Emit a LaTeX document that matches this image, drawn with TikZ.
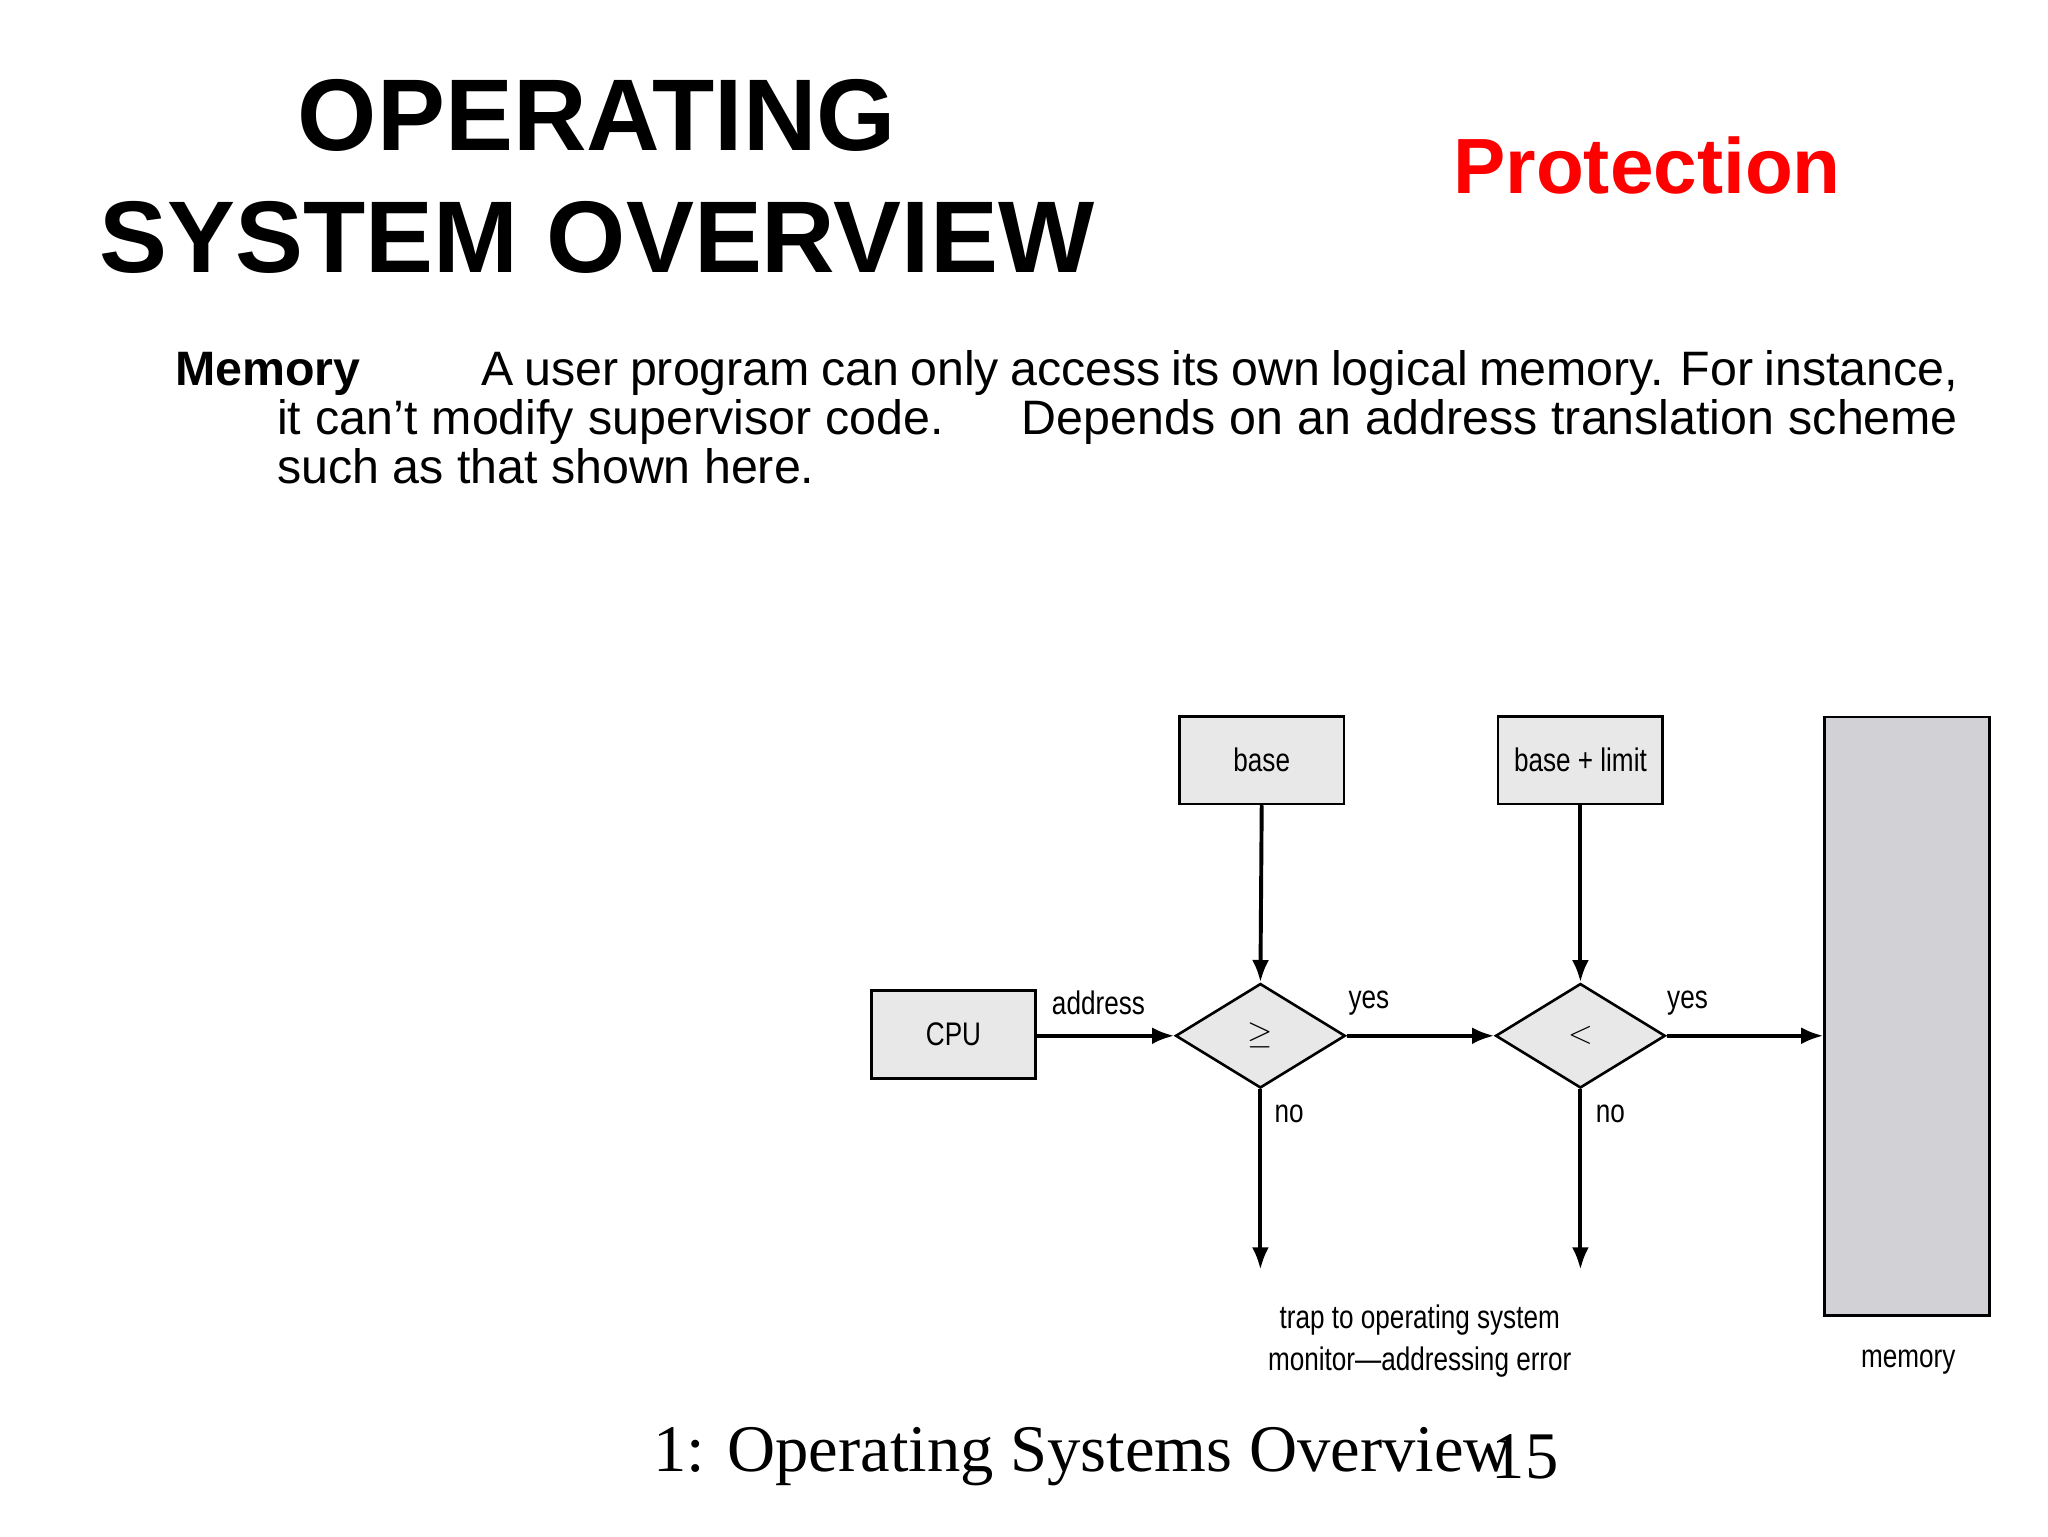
\documentclass[tikz,border=0pt]{standalone}
\usepackage{fontspec}
\setmainfont{Liberation Sans}
\newfontfamily\serifft{Liberation Serif}
\newfontfamily\narrow[FakeStretch=0.8]{Liberation Sans}
\usetikzlibrary{shapes.geometric,arrows.meta}
\begin{document}
\begin{tikzpicture}[x=1pt,y=-1pt,
  bx/.style={draw,line width=2pt,fill={rgb,255:red,232;green,232;blue,232},minimum width=126pt,minimum height=67pt,font=\narrow\fontsize{25}{28}\selectfont,inner sep=0pt},
  dm/.style={diamond,draw,line width=2pt,fill={rgb,255:red,232;green,232;blue,232},minimum width=130pt,minimum height=80pt,aspect=1.6,inner sep=0pt,font=\fontsize{26}{28}\selectfont},
  ar/.style={line width=3pt,-{Latex[length=17pt,width=13pt]}},
  lb/.style={font=\narrow\fontsize{25}{28}\selectfont,inner sep=0pt}]
\useasboundingbox (0,0) rectangle (1568,1176);
\fill[white] (0,0) rectangle (1568,1176);
\node[font=\fontsize{78}{94}\selectfont\bfseries,align=center] (title) at (457,135) {OPERATING\\SYSTEM OVERVIEW};
\node[font=\fontsize{60}{70}\selectfont\bfseries,text=red] (prot) at (1261,127) {Protection};
\node[anchor=north west,text width=1365pt,align=justify,inner sep=0pt,font=\fontsize{37}{37.5}\selectfont] (para) at (134,268)
 {\hyphenpenalty=10000\emergencystretch=200pt\hangindent=78pt\hangafter=1 \textbf{Memory}\hspace{2.5em}A user program can only access its own logical memory. For instance, it can't modify supervisor code.\hspace{1.2em} Depends on an address translation scheme such as that shown here.\par};
\node[bx] (base) at (966,582) {base};
\node[bx] (bl) at (1210,582) {base + limit};
\node[bx] (cpu) at (730,792) {CPU};
\node[dm] (d1) at (965,793) {$\geq$};
\node[dm] (d2) at (1210,793) {$<$};
\node[draw,line width=2pt,fill={rgb,255:red,210;green,210;blue,214},minimum width=126pt,minimum height=458pt,inner sep=0pt] (mem) at (1460,778) {};
\coordinate (t1) at (965,972);
\coordinate (t2) at (1210,972);
\draw[ar] (cpu.east |- d1.west) -- (d1.west);
\draw[ar] (d1.east) -- (d2.west);
\draw[ar] (d2.east) -- (mem.west |- d2.east);
\draw[ar] (base.south) -- (d1.north);
\draw[ar] (bl.south) -- (d2.north);
\draw[ar] (d1.south) -- (t1);
\draw[ar] (d2.south) -- (t2);
\node[lb] (la) at (841,768) {address};
\node[lb] (ly1) at (1048,768) {yes};
\node[lb] (ly2) at (1292,768) {yes};
\node[lb] (ln1) at (987,853) {no};
\node[lb] (ln2) at (1233,853) {no};
\node[lb,align=center] (trap) at (1087,1027) {trap to operating system\\[4pt]monitor—addressing error};
\node[lb] (ml) at (1461,1043) {memory};
\node[font=\serifft\fontsize{51}{56}\selectfont,anchor=west,inner sep=0pt] (foot) at (500,1115) {1: Operating Systems Overview};
\node[font=\serifft\fontsize{51}{56}\selectfont,anchor=west,inner sep=0pt] (pg) at (1142,1115) {15};
\end{tikzpicture}
\end{document}
